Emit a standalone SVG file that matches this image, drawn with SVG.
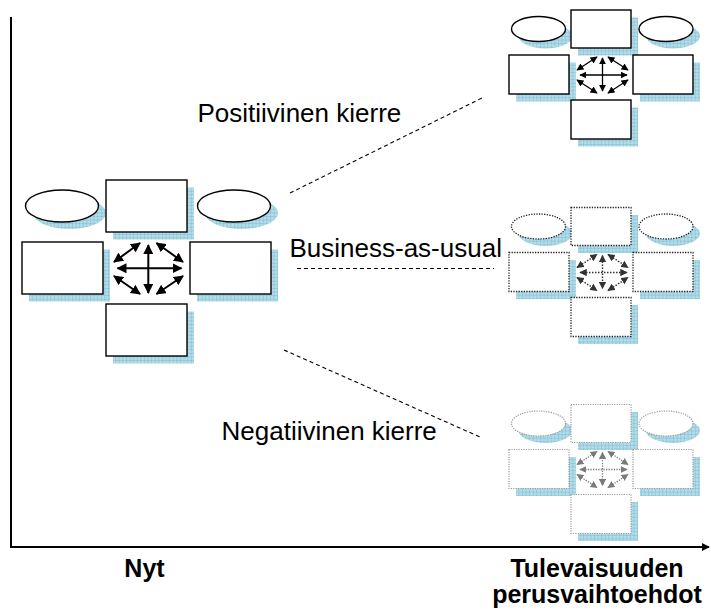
<svg xmlns="http://www.w3.org/2000/svg" width="711" height="611" viewBox="0 0 711 611">
  <style>
    .label { font-family: "Liberation Sans", Arial, sans-serif; font-size: 26px; fill: #000; }
    .axislabel { font-family: "Liberation Sans", Arial, sans-serif; font-size: 25px; font-weight: bold; fill: #000; text-anchor: middle; }
    .shadow { fill: url(#grid); stroke: none; }
    .box { fill: #fff; }
    .solid { stroke: #000; stroke-width: 1.4; }
    .dots { stroke: #222; stroke-width: 1.3; stroke-dasharray: 1.3 1.3; }
    .faint { stroke: #9a9a9a; stroke-width: 1.2; stroke-dasharray: 1.2 1.2; }
    .arr-big { stroke: #000; stroke-width: 2; fill: none; marker-start: url(#head-big); marker-end: url(#head-big); }
    .arr { stroke: #000; stroke-width: 1.3; fill: none; marker-start: url(#head); marker-end: url(#head); }
    .arr-dots { stroke: #333; stroke-width: 1.5; stroke-dasharray: 1.5 1.5; fill: none; marker-start: url(#head-dark); marker-end: url(#head-dark); }
    .arr-faint { stroke: #7a7a7a; stroke-width: 1.3; stroke-dasharray: 1.3 1.3; fill: none; marker-start: url(#head-grey); marker-end: url(#head-grey); }
    .path { stroke: #000; stroke-width: 1.1; stroke-dasharray: 4 3; fill: none; }
    .axis { stroke: #000; stroke-width: 2; fill: none; }
  </style>
  <defs>
    <pattern id="grid" width="3.6" height="3.6" patternUnits="userSpaceOnUse">
      <rect width="3.6" height="3.6" fill="#b3dce9"/>
      <path d="M0 0H3.6M0 0V3.6" stroke="#6eb2cb" stroke-width="0.8"/>
    </pattern>
    <marker id="head-big" viewBox="0 0 10 10" refX="9" refY="5" markerWidth="5" markerHeight="5" orient="auto-start-reverse">
      <path d="M0 0L10 5L0 10z" fill="#000"/>
    </marker>
    <marker id="head" viewBox="0 0 10 10" refX="9" refY="5" markerWidth="5.5" markerHeight="5.5" orient="auto-start-reverse">
      <path d="M0 0L10 5L0 10z" fill="#000"/>
    </marker>
    <marker id="head-dark" viewBox="0 0 10 10" refX="9" refY="5" markerWidth="5" markerHeight="5" orient="auto-start-reverse">
      <path d="M0 0L10 5L0 10z" fill="#333"/>
    </marker>
    <marker id="head-grey" viewBox="0 0 10 10" refX="9" refY="5" markerWidth="5.5" markerHeight="5.5" orient="auto-start-reverse">
      <path d="M0 0L10 5L0 10z" fill="#7a7a7a"/>
    </marker>
    <marker id="axis-head" viewBox="0 0 10 10" refX="9" refY="5" markerWidth="4" markerHeight="4" orient="auto">
      <path d="M0 0L10 5L0 10z" fill="#000"/>
    </marker>
  </defs>

  <!-- axes -->
  <g id="axes">
    <line class="axis" x1="11" y1="17" x2="11" y2="547"/>
    <line class="axis" x1="10" y1="547" x2="709" y2="547" marker-end="url(#axis-head)"/>
  </g>

  <!-- present-day system -->
  <g id="now">
    <g id="now-ellipse-left">
      <ellipse class="shadow" cx="69.5" cy="213" rx="36.5" ry="16"/>
      <ellipse class="box solid" cx="62" cy="206" rx="36.5" ry="16"/>
    </g>
    <g id="now-ellipse-right">
      <ellipse class="shadow" cx="241.5" cy="213" rx="36.5" ry="16"/>
      <ellipse class="box solid" cx="234" cy="206" rx="36.5" ry="16"/>
    </g>
    <g id="now-top">
      <rect class="shadow" x="113" y="187.5" width="81" height="52"/>
      <rect class="box solid" x="106" y="180" width="81" height="52"/>
    </g>
    <g id="now-left">
      <rect class="shadow" x="29" y="249.5" width="81" height="52"/>
      <rect class="box solid" x="22" y="242" width="81" height="52"/>
    </g>
    <g id="now-right">
      <rect class="shadow" x="197" y="249.5" width="81" height="52"/>
      <rect class="box solid" x="190" y="242" width="81" height="52"/>
    </g>
    <g id="now-bottom">
      <rect class="shadow" x="113" y="311.5" width="81" height="52"/>
      <rect class="box solid" x="106" y="304" width="81" height="52"/>
    </g>
    <g id="now-links">
      <line class="arr-big" x1="148.3" y1="245" x2="148.3" y2="293"/>
      <line class="arr-big" x1="117.5" y1="268.3" x2="181.5" y2="268.3"/>
      <line class="arr-big" x1="114" y1="262" x2="140" y2="243"/>
      <line class="arr-big" x1="156.5" y1="243" x2="183" y2="262"/>
      <line class="arr-big" x1="114" y1="276" x2="140" y2="294"/>
      <line class="arr-big" x1="156.5" y1="294" x2="183" y2="276"/>
    </g>
  </g>

  <!-- positive spiral -->
  <g id="positive">
    <g id="pos-ellipse-left">
      <ellipse class="shadow" cx="545.5" cy="36" rx="27" ry="12.5"/>
      <ellipse class="box solid" cx="538.5" cy="29" rx="27" ry="12.5"/>
    </g>
    <g id="pos-ellipse-right">
      <ellipse class="shadow" cx="673" cy="36" rx="27" ry="12.5"/>
      <ellipse class="box solid" cx="666" cy="29" rx="27" ry="12.5"/>
    </g>
    <g id="pos-top">
      <rect class="shadow" x="578" y="17.5" width="60" height="38"/>
      <rect class="box solid" x="571" y="10" width="60" height="38"/>
    </g>
    <g id="pos-left">
      <rect class="shadow" x="516" y="62.5" width="60" height="39"/>
      <rect class="box solid" x="509" y="55" width="60" height="39"/>
    </g>
    <g id="pos-right">
      <rect class="shadow" x="640" y="62.5" width="60" height="39"/>
      <rect class="box solid" x="633" y="55" width="60" height="39"/>
    </g>
    <g id="pos-bottom">
      <rect class="shadow" x="578" y="107.5" width="60" height="39"/>
      <rect class="box solid" x="571" y="100" width="60" height="39"/>
    </g>
    <g id="pos-links">
      <line class="arr" x1="602.5" y1="58" x2="602.5" y2="91"/>
      <line class="arr" x1="580" y1="75" x2="627" y2="75"/>
      <line class="arr" x1="577" y1="70" x2="597" y2="57"/>
      <line class="arr" x1="608" y1="57" x2="628" y2="70"/>
      <line class="arr" x1="577" y1="80" x2="597" y2="93"/>
      <line class="arr" x1="608" y1="93" x2="628" y2="80"/>
    </g>
  </g>

  <!-- business as usual -->
  <g id="usual" transform="translate(0,197.5)">
    <g id="bau-ellipse-left">
      <ellipse class="shadow" cx="545.5" cy="36" rx="27" ry="12.5"/>
      <ellipse class="box dots" cx="538.5" cy="29" rx="27" ry="12.5"/>
    </g>
    <g id="bau-ellipse-right">
      <ellipse class="shadow" cx="673" cy="36" rx="27" ry="12.5"/>
      <ellipse class="box dots" cx="666" cy="29" rx="27" ry="12.5"/>
    </g>
    <g id="bau-top">
      <rect class="shadow" x="578" y="17.5" width="60" height="38"/>
      <rect class="box dots" x="571" y="10" width="60" height="38"/>
    </g>
    <g id="bau-left">
      <rect class="shadow" x="516" y="62.5" width="60" height="39"/>
      <rect class="box dots" x="509" y="55" width="60" height="39"/>
    </g>
    <g id="bau-right">
      <rect class="shadow" x="640" y="62.5" width="60" height="39"/>
      <rect class="box dots" x="633" y="55" width="60" height="39"/>
    </g>
    <g id="bau-bottom">
      <rect class="shadow" x="578" y="107.5" width="60" height="39"/>
      <rect class="box dots" x="571" y="100" width="60" height="39"/>
    </g>
    <g id="bau-links">
      <line class="arr-dots" x1="602.5" y1="58" x2="602.5" y2="91"/>
      <line class="arr-dots" x1="580" y1="75" x2="627" y2="75"/>
      <line class="arr-dots" x1="577" y1="70" x2="597" y2="57"/>
      <line class="arr-dots" x1="608" y1="57" x2="628" y2="70"/>
      <line class="arr-dots" x1="577" y1="80" x2="597" y2="93"/>
      <line class="arr-dots" x1="608" y1="93" x2="628" y2="80"/>
    </g>
  </g>

  <!-- negative spiral -->
  <g id="negative" transform="translate(0,394.5)">
    <g id="neg-ellipse-left">
      <ellipse class="shadow" cx="545.5" cy="36" rx="27" ry="12.5"/>
      <ellipse class="box faint" cx="538.5" cy="29" rx="27" ry="12.5"/>
    </g>
    <g id="neg-ellipse-right">
      <ellipse class="shadow" cx="673" cy="36" rx="27" ry="12.5"/>
      <ellipse class="box faint" cx="666" cy="29" rx="27" ry="12.5"/>
    </g>
    <g id="neg-top">
      <rect class="shadow" x="578" y="17.5" width="60" height="38"/>
      <rect class="box faint" x="571" y="10" width="60" height="38"/>
    </g>
    <g id="neg-left">
      <rect class="shadow" x="516" y="62.5" width="60" height="39"/>
      <rect class="box faint" x="509" y="55" width="60" height="39"/>
    </g>
    <g id="neg-right">
      <rect class="shadow" x="640" y="62.5" width="60" height="39"/>
      <rect class="box faint" x="633" y="55" width="60" height="39"/>
    </g>
    <g id="neg-bottom">
      <rect class="shadow" x="578" y="107.5" width="60" height="39"/>
      <rect class="box faint" x="571" y="100" width="60" height="39"/>
    </g>
    <g id="neg-links">
      <line class="arr-faint" x1="602.5" y1="58" x2="602.5" y2="91"/>
      <line class="arr-faint" x1="580" y1="75" x2="627" y2="75"/>
      <line class="arr-faint" x1="577" y1="70" x2="597" y2="57"/>
      <line class="arr-faint" x1="608" y1="57" x2="628" y2="70"/>
      <line class="arr-faint" x1="577" y1="80" x2="597" y2="93"/>
      <line class="arr-faint" x1="608" y1="93" x2="628" y2="80"/>
    </g>
  </g>

  <!-- scenario paths -->
  <g id="connectors">
    <line class="path" x1="290" y1="193" x2="482" y2="98"/>
    <line class="path" x1="297" y1="268.5" x2="494" y2="268.5"/>
    <line class="path" x1="284" y1="350" x2="480" y2="437"/>
  </g>

  <!-- labels -->
  <g id="labels">
    <text class="label" x="197.5" y="121.5">Positiivinen kierre</text>
    <text class="label" x="289.5" y="256.5">Business-as-usual</text>
    <text class="label" x="221.5" y="440">Negatiivinen kierre</text>
    <text class="axislabel" x="144.5" y="577">Nyt</text>
    <text class="axislabel" x="597" y="577">Tulevaisuuden</text>
    <text class="axislabel" x="597" y="603">perusvaihtoehdot</text>
  </g>
</svg>
